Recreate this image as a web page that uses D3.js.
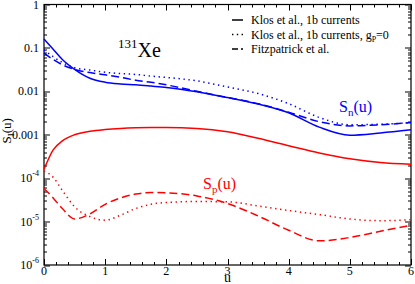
<!DOCTYPE html>
<html>
<head>
<meta charset="utf-8">
<script src="https://cdn.jsdelivr.net/npm/d3@7"></script>
<style>
  body { margin: 0; background: #fff; }
</style>
</head>
<body>
<div id="chart"></div>
<script>
const uValues = [0, 0.15, 0.3, 0.5, 0.75, 1, 1.25, 1.5, 1.75, 2, 2.5, 3, 3.5, 4, 4.5, 5, 5.5, 6];

const snKlos = [0.16, 0.093, 0.054, 0.032, 0.020, 0.0162, 0.0148, 0.0141, 0.0132, 0.0123, 0.0098, 0.0072, 0.0051, 0.0032, 0.0015, 0.00098, 0.0011, 0.0013];
const snKlosGp0 = [0.089, 0.063, 0.046, 0.035, 0.031, 0.0275, 0.0257, 0.0245, 0.0224, 0.0209, 0.0174, 0.0126, 0.0089, 0.0052, 0.0025, 0.0017, 0.00175, 0.0019];
const snFitz = [0.076, 0.054, 0.041, 0.032, 0.027, 0.024, 0.021, 0.018, 0.0162, 0.0141, 0.010, 0.0072, 0.0052, 0.0033, 0.0020, 0.0016, 0.0017, 0.0019];

const spKlos = [1.6e-4, 4.5e-4, 7.2e-4, 1.0e-3, 1.2e-3, 1.32e-3, 1.4e-3, 1.45e-3, 1.47e-3, 1.47e-3, 1.4e-3, 1.17e-3, 8.3e-4, 5.6e-4, 3.8e-4, 2.8e-4, 2.3e-4, 2.1e-4];
const spKlosGp0 = [1.45e-4, 1.05e-4, 5.2e-5, 2.2e-5, 1.3e-5, 1.08e-5, 1.4e-5, 2.0e-5, 2.5e-5, 2.75e-5, 2.9e-5, 2.85e-5, 2.3e-5, 1.8e-5, 1.45e-5, 1.15e-5, 1.05e-5, 1.1e-5];
const spFitz = [5.8e-5, 3.5e-5, 2.0e-5, 1.15e-5, 1.5e-5, 2.5e-5, 3.5e-5, 4.3e-5, 4.7e-5, 4.6e-5, 3.9e-5, 2.6e-5, 1.35e-5, 6.3e-6, 3.6e-6, 4.3e-6, 6.0e-6, 8.2e-6];

const xTicks = [0, 1, 2, 3, 4, 5, 6];
const yTicks = [1, 0.1, 0.01, 0.001, 1e-4, 1e-5, 1e-6];
const yTickLabels = [["1"], ["0.1"], ["0.01"], ["0.001"], ["10", "-4"], ["10", "-5"], ["10", "-6"]];

const legendLabels = ["Klos et al., 1b currents", "Klos et al., 1b currents, g", "Fitzpatrick et al."];

const width = 415;
const height = 284;
const margin = { top: 4.5, right: 4, bottom: 19, left: 44 };
const innerWidth = width - margin.left - margin.right;
const innerHeight = height - margin.top - margin.bottom;

const serif = "'Liberation Serif', 'Times New Roman', Times, serif";
const blue = "#0000ff";
const red = "#ff0000";
const dotted = "1.4,3.6";
const dashed = "8,4";

const svg = d3.select("#chart")
  .append("svg")
  .attr("width", width)
  .attr("height", height)
  .attr("font-family", serif)
  .style("display", "block");

const chart = svg.append("g")
  .attr("transform", `translate(${margin.left}, ${margin.top})`);

const x = d3.scaleLinear().domain([0, 6]).range([0, innerWidth]);
const y = d3.scaleLog().domain([1e-6, 1]).range([innerHeight, 0]);

// minor ticks
const xMinor = d3.range(0, 6.001, 0.2).filter((v) => Math.abs(v - Math.round(v)) > 1e-6);
const yMinor = [];
for (let e = -6; e < 0; e++) {
  for (let m = 2; m <= 9; m++) yMinor.push(m * Math.pow(10, e));
}

const tickColor = "#000";
const ticks = chart.append("g").attr("stroke", tickColor).attr("stroke-width", 1);

xTicks.forEach((v) => {
  const px = Math.round(x(v)) + 0.5;
  ticks.append("line").attr("x1", px).attr("x2", px).attr("y1", innerHeight).attr("y2", innerHeight - 6);
  ticks.append("line").attr("x1", px).attr("x2", px).attr("y1", 0).attr("y2", 6);
});
xMinor.forEach((v) => {
  const px = Math.round(x(v)) + 0.5;
  ticks.append("line").attr("x1", px).attr("x2", px).attr("y1", innerHeight).attr("y2", innerHeight - 3);
  ticks.append("line").attr("x1", px).attr("x2", px).attr("y1", 0).attr("y2", 3);
});
yTicks.forEach((v) => {
  const py = Math.round(y(v)) + 0.5;
  ticks.append("line").attr("x1", 0).attr("x2", 6).attr("y1", py).attr("y2", py);
  ticks.append("line").attr("x1", innerWidth).attr("x2", innerWidth - 6).attr("y1", py).attr("y2", py);
});
yMinor.forEach((v) => {
  const py = Math.round(y(v)) + 0.5;
  ticks.append("line").attr("x1", 0).attr("x2", 3).attr("y1", py).attr("y2", py);
  ticks.append("line").attr("x1", innerWidth).attr("x2", innerWidth - 3).attr("y1", py).attr("y2", py);
});

chart.append("rect")
  .attr("x", 0)
  .attr("y", 0)
  .attr("width", innerWidth)
  .attr("height", innerHeight)
  .attr("fill", "none")
  .attr("stroke", tickColor)
  .attr("stroke-width", 1.2);

// tick labels
chart.append("g")
  .selectAll("text")
  .data(xTicks)
  .enter()
  .append("text")
  .attr("x", (d) => x(d))
  .attr("y", innerHeight + 10)
  .attr("text-anchor", "middle")
  .attr("font-size", 12)
  .text((d) => d);

yTicks.forEach((v, i) => {
  const label = yTickLabels[i];
  const t = chart.append("text")
    .attr("x", -5)
    .attr("y", y(v) + 4)
    .attr("text-anchor", "end")
    .attr("font-size", 12);
  t.append("tspan").text(label[0]);
  if (label[1]) {
    t.append("tspan").attr("font-size", 8).attr("dy", -6).text(label[1]);
  }
});

// axis titles
svg.append("text")
  .attr("x", margin.left + innerWidth / 2)
  .attr("y", 282)
  .attr("text-anchor", "middle")
  .attr("font-size", 14)
  .text("u");

const yTitle = svg.append("text")
  .attr("transform", `translate(11, ${margin.top + y(0.001) - 4}) rotate(-90)`)
  .attr("text-anchor", "middle")
  .attr("font-size", 13);
yTitle.append("tspan").text("S");
yTitle.append("tspan").attr("font-size", 9).attr("dy", 3).text("I");
yTitle.append("tspan").attr("dy", -3).text("(u)");

// curves
const line = d3.line()
  .x((d) => x(d[0]))
  .y((d) => y(d[1]))
  .curve(d3.curveMonotoneX);

const series = [
  { values: snKlos, color: blue, dash: null },
  { values: snKlosGp0, color: blue, dash: dotted },
  { values: snFitz, color: blue, dash: dashed },
  { values: spKlos, color: red, dash: null },
  { values: spKlosGp0, color: red, dash: dotted },
  { values: spFitz, color: red, dash: dashed },
];

series.forEach((s) => {
  chart.append("path")
    .datum(uValues.map((u, i) => [u, s.values[i]]))
    .attr("d", line)
    .attr("fill", "none")
    .attr("stroke", s.color)
    .attr("stroke-width", 1.5)
    .attr("stroke-dasharray", s.dash);
});

// labels in plot
const xe = svg.append("text").attr("x", 118).attr("y", 57).attr("font-size", 20);
xe.append("tspan").attr("font-size", 13).attr("dy", -9).text("131");
xe.append("tspan").attr("dy", 9).text("Xe");

const sn = svg.append("text").attr("x", 339).attr("y", 112).attr("font-size", 16).attr("fill", blue);
sn.append("tspan").text("S");
sn.append("tspan").attr("font-size", 11).attr("dy", 4).text("n");
sn.append("tspan").attr("dy", -4).text("(u)");

const sp = svg.append("text").attr("x", 203).attr("y", 189).attr("font-size", 16).attr("fill", red);
sp.append("tspan").text("S");
sp.append("tspan").attr("font-size", 11).attr("dy", 4).text("p");
sp.append("tspan").attr("dy", -4).text("(u)");

// legend
const legend = svg.append("g").attr("transform", "translate(232, 0)");
const legendDash = [null, "1.4,3.4", "6,3"];
legendLabels.forEach((label, i) => {
  const rowY = 24 + i * 14.5;
  legend.append("line")
    .attr("x1", 0)
    .attr("x2", 11)
    .attr("y1", rowY - 4)
    .attr("y2", rowY - 4)
    .attr("stroke", "#000")
    .attr("stroke-width", 1.5)
    .attr("stroke-dasharray", legendDash[i]);
  const t = legend.append("text")
    .attr("x", 19)
    .attr("y", rowY)
    .attr("font-size", 12);
  t.append("tspan").text(label);
  if (i === 1) {
    t.append("tspan").attr("font-size", 8).attr("dy", 3).text("P");
    t.append("tspan").attr("dy", -3).text("=0");
  }
});
</script>
</body>
</html>
